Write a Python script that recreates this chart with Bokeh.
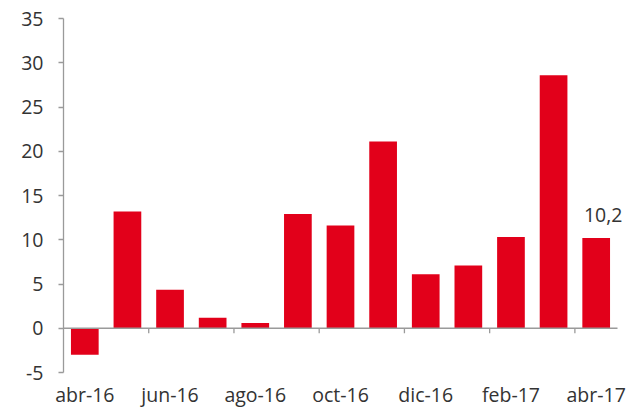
from bokeh.plotting import figure
from bokeh.models import ColumnDataSource, FixedTicker, Range1d, Label
from bokeh.embed import file_html
from bokeh.resources import INLINE

months = ["abr-16", "may-16", "jun-16", "jul-16", "ago-16", "sep-16", "oct-16",
          "nov-16", "dic-16", "ene-17", "feb-17", "mar-17", "abr-17"]
values = [-3.0, 13.2, 4.35, 1.2, 0.6, 12.9, 11.6, 21.1, 6.1, 7.1, 10.3, 28.6, 10.2]
y_ticks = [-5, 0, 5, 10, 15, 20, 25, 30, 35]
last_label = "10,2"

RED = "#E2001A"
GREY = "#9a9a9a"
TEXT = "#333333"
FONT = "Open Sans"
FS = "19.5px"

n = len(months)
idx = list(range(n))
src = ColumnDataSource(dict(x=idx, top=values))

# frame: 63..630 px wide, categories occupy 63..617 (554 px for 13 slots)
extra = 13 * n / 554.0
p = figure(width=638, height=410, output_backend="svg", toolbar_location=None,
           x_range=Range1d(-0.5, n - 0.5 + extra), y_range=Range1d(-5, 35),
           min_border_left=63, min_border_right=8, min_border_top=18, min_border_bottom=38)
p.outline_line_color = None
p.grid.visible = False
p.background_fill_color = "white"
p.border_fill_color = "white"

p.vbar(x="x", top="top", bottom=0, width=0.65, source=src, fill_color=RED, line_color=None)

# zero line with small ticks at every other category boundary
p.segment(x0=[-0.5], x1=[n - 0.5], y0=[0], y1=[0], line_color=GREY, line_width=1.3)
tick_len = 5 * 40 / 354.0  # ~5 px in data units
bx = [i + 0.5 for i in range(1, n - 1, 2)]
p.segment(x0=bx, x1=bx, y0=[0] * len(bx), y1=[-tick_len] * len(bx), line_color=GREY, line_width=1.3)

# y axis
ya = p.yaxis[0]
ya.ticker = FixedTicker(ticks=y_ticks)
ya.major_label_overrides = {t: str(t) for t in y_ticks}
ya.axis_line_color = GREY
ya.axis_line_width = 1.3
ya.major_tick_line_color = GREY
ya.major_tick_line_width = 1.3
ya.major_tick_out = 5
ya.major_tick_in = 0
ya.minor_tick_line_color = None
ya.major_label_standoff = 15
ya.major_label_text_font = FONT
ya.major_label_text_font_size = FS
ya.major_label_text_color = TEXT

# x axis (labels only)
xa = p.xaxis[0]
xa.ticker = FixedTicker(ticks=list(range(0, n, 2)))
xa.major_label_overrides = {i: months[i] for i in range(0, n, 2)}
xa.axis_line_color = None
xa.major_tick_line_color = None
xa.minor_tick_line_color = None
xa.major_tick_out = 0
xa.major_tick_in = 0
xa.major_label_standoff = 8
xa.major_label_text_font = FONT
xa.major_label_text_font_size = FS
xa.major_label_text_color = TEXT

p.add_layout(Label(x=idx[-1], y=values[-1], text=last_label, x_offset=7, y_offset=23,
                   text_align="center", text_baseline="alphabetic",
                   text_font=FONT, text_font_size=FS, text_color=TEXT))

open("out.html", "w").write(file_html(p, INLINE))
